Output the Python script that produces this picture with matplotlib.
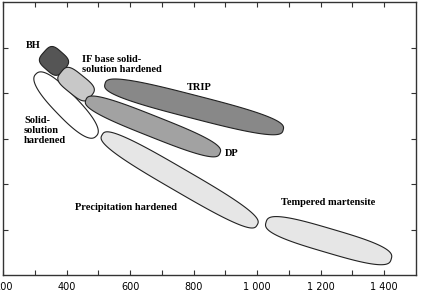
import numpy as np
import matplotlib
matplotlib.use("Agg")
import matplotlib.pyplot as plt
from matplotlib.patches import Polygon

# steel families: tensile strength (MPa) and elongation (%) at both ends of each band
families = ["Solid-solution", "BH", "IF", "Precipitation", "DP", "TRIP", "Tempered martensite"]
strength_start = [304, 329, 383, 512, 461, 521, 1028]
strength_end = [493, 392, 477, 1000, 883, 1082, 1422]
elong_start = [44.2, 49.0, 44.6, 30.8, 38.5, 42.0, 11.6]
elong_end = [30.5, 45.1, 39.3, 11.0, 26.8, 31.9, 3.5]

labels = ["BH", "IF base solid-\nsolution hardened", "TRIP", "Solid-\nsolution\nhardened",
          "DP", "Precipitation hardened", "Tempered martensite"]
label_x = [294, 449, 817, 266, 921, 587, 1224]
label_y = [50.5, 46.3, 41.3, 31.8, 26.6, 14.9, 16.0]
label_ha = ["center", "left", "center", "left", "center", "center", "center"]

x_ticks = [200, 400, 600, 800, 1000, 1200, 1400]
x_ticklabels = ["200", "400", "600", "800", "1 000", "1 200", "1 400"]

# styles (half-width in pixels, superellipse exponent, fill colour)
half_width = [12, 11.5, 10.5, 11.5, 10.5, 11.5, 12]
shape_exp = [2.5, 3.6, 3.6, 3.0, 3.0, 3.0, 3.0]
fill = ["white", "#555555", "#c8c8c8", "#e6e6e6", "#a2a2a2", "#888888", "#e6e6e6"]

fig = plt.figure(figsize=(4.28, 2.98), dpi=100)
ax = fig.add_axes([3 / 428, 23 / 298, 413 / 428, 273 / 298])
ax.set_xlim(200, 1500)
ax.set_ylim(0, 60)


def band(p0, p1, hw, n=3.0, num=240):
    """Superellipse between two tips, built in pixel space"""
    a0, a1 = ax.transData.transform([p0, p1])
    c = (a0 + a1) / 2
    d = a1 - a0
    half_len = np.hypot(*d) / 2
    ang = np.arctan2(d[1], d[0])
    t = np.linspace(0, 2 * np.pi, num)
    u = half_len * np.sign(np.cos(t)) * np.abs(np.cos(t)) ** (2 / n)
    v = hw * np.sign(np.sin(t)) * np.abs(np.sin(t)) ** (2 / n)
    pts = np.column_stack([c[0] + u * np.cos(ang) - v * np.sin(ang),
                           c[1] + u * np.sin(ang) + v * np.cos(ang)])
    return ax.transData.inverted().transform(pts)


for i in range(len(families)):
    pts = band((strength_start[i], elong_start[i]), (strength_end[i], elong_end[i]),
               half_width[i], shape_exp[i])
    ax.add_patch(Polygon(pts, closed=True, facecolor=fill[i], edgecolor="#222222",
                         linewidth=0.8, zorder=2 + i))

for txt, x, y, ha in zip(labels, label_x, label_y, label_ha):
    ax.text(x, y, txt, ha=ha, va="center", fontsize=7.5, fontweight="bold",
            family="Liberation Serif", linespacing=1.1, zorder=20)

ax.set_xticks(x_ticks)
ax.set_xticklabels(x_ticklabels)
ax.set_xticks(np.arange(300, 1500, 200), minor=True)
ax.set_yticks(np.arange(10, 60, 10))
ax.set_yticklabels([])
ax.tick_params(which="both", direction="in", length=3.6, width=0.8,
               top=True, right=True, labelsize=7, color="#333333", pad=5)
for s in ax.spines.values():
    s.set_linewidth(1.0)
    s.set_color("#333333")

fig.savefig("out.png", dpi=100)
